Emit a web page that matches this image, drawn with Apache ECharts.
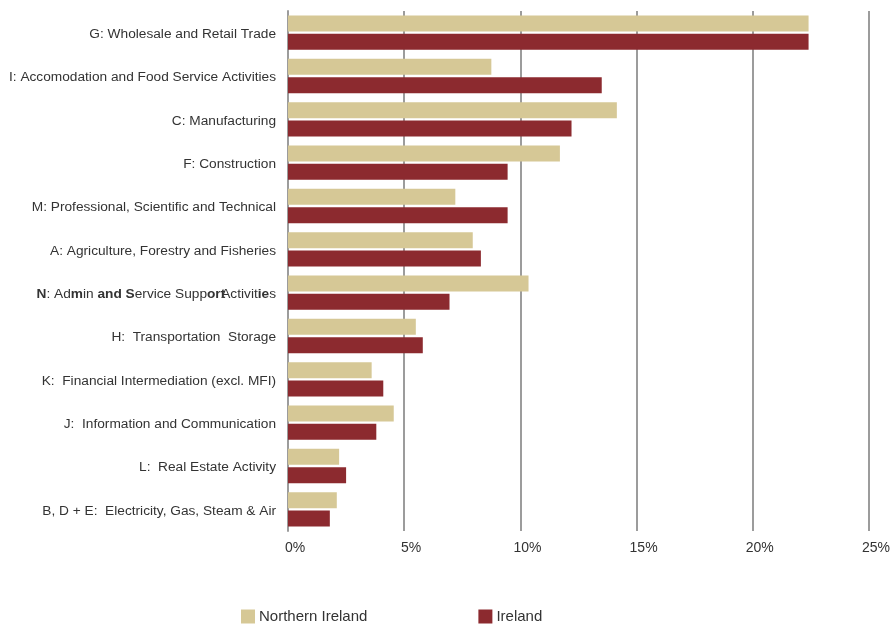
<!DOCTYPE html>
<html>
<head>
<meta charset="utf-8">
<script src="https://cdn.jsdelivr.net/npm/echarts@6/dist/echarts.min.js"></script>
<style>
  html, body { margin: 0; padding: 0; background: #fff; }
  #chart { width: 893px; height: 626px; }
</style>
</head>
<body>
<div id="chart"></div>
<script>
// Share of employment by sector (%), top to bottom
const categories = [
  'G: Wholesale and Retail Trade',
  'I: Accomodation and Food Service Activities',
  'C: Manufacturing',
  'F: Construction',
  'M: Professional, Scientific and Technical',
  'A: Agriculture, Forestry and Fisheries',
  'N: Admin and Service Support Activities',
  'H:  Transportation  Storage',
  'K:  Financial Intermediation (excl. MFI)',
  'J:  Information and Communication',
  'L:  Real Estate Activity',
  'B, D + E:  Electricity, Gas, Steam & Air'
];
const northernIreland = [22.4, 8.75, 14.15, 11.7, 7.2, 7.95, 10.35, 5.5, 3.6, 4.55, 2.2, 2.1];
const ireland =         [22.4, 13.5, 12.2, 9.45, 9.45, 8.3, 6.95, 5.8, 4.1, 3.8, 2.5, 1.8];
const seriesNames = ['Northern Ireland', 'Ireland'];
const xTicks = [0, 5, 10, 15, 20, 25];

const chart = echarts.init(document.getElementById('chart'));

const fontFamily = 'Liberation Sans, Arial, sans-serif';
const catFont = 13.7;

chart.setOption({
  animation: false,
  textStyle: { fontFamily: fontFamily },
  grid: { left: 288, right: 23, top: 11, bottom: 95, containLabel: false },
  legend: {
    data: seriesNames,
    left: 241,
    top: 609,
    padding: 0,
    itemWidth: 14,
    itemHeight: 14,
    itemGap: 111,
    icon: 'rect',
    textStyle: { fontSize: 15, color: '#333', fontFamily: fontFamily, padding: [0, 0, 0, -1] }
  },
  xAxis: {
    type: 'value',
    min: xTicks[0],
    max: xTicks[xTicks.length - 1],
    interval: 5,
    axisLine: { show: false },
    axisTick: { show: false },
    splitLine: { show: true, lineStyle: { color: '#9c9c9c', width: 2 } },
    axisLabel: {
      formatter: v => v + '%',
      fontSize: 14,
      color: '#333',
      margin: 10,
      padding: [0, 0, 0, 14]
    }
  },
  yAxis: {
    type: 'category',
    data: categories,
    inverse: true,
    axisLine: { show: true, lineStyle: { color: '#9c9c9c', width: 2 } },
    axisTick: { show: false },
    splitLine: { show: false },
    axisLabel: {
      fontSize: catFont,
      color: '#333',
      margin: 12,
      padding: [3, 0, 0, 0],
      formatter: function (v) {
        if (v.indexOf('N:') === 0) {
          return '{b|N}: Ad{b|m}in {b|and S}ervice Supp{b|ort}{s|Activit}{b|ie}s';
        }
        return v;
      },
      rich: {
        b: { fontWeight: 'bold', fontSize: catFont, color: '#333' },
        s: { fontSize: catFont, color: '#333', padding: [0, 0, 0, -4] }
      }
    }
  },
  series: [
    {
      name: seriesNames[0],
      type: 'bar',
      data: northernIreland,
      barWidth: 16,
      barGap: '15%',
      itemStyle: { color: '#d6c896' }
    },
    {
      name: seriesNames[1],
      type: 'bar',
      data: ireland,
      barWidth: 16,
      barGap: '15%',
      itemStyle: { color: '#8c2a2f' }
    }
  ]
});
</script>
</body>
</html>
